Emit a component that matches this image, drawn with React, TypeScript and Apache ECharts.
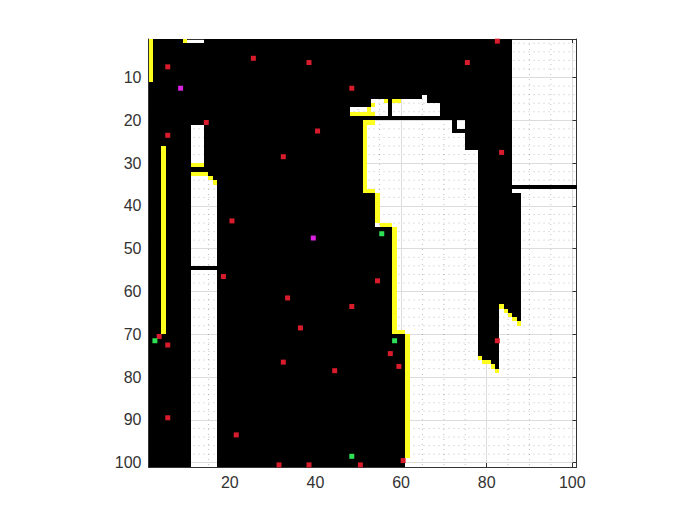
import React, { useEffect, useRef } from "react";
import * as echarts from "echarts";

// Tick positions
const xTicks = [20, 40, 60, 80, 100];
const yTicks = [10, 20, 30, 40, 50, 60, 70, 80, 90, 100];
const xMinor = [5, 10, 15, 25, 30, 35, 45, 50, 55, 65, 70, 75, 85, 90, 95];
const yMinor = [2, 4, 6, 8, 12, 14, 16, 18, 22, 24, 26, 28, 32, 34, 36, 38, 42, 44, 46, 48, 52, 54, 56, 58, 62, 64, 66, 68, 72, 74, 76, 78, 82, 84, 86, 88, 92, 94, 96, 98];

// Map cells: [rowFrom, rowTo, colFrom, colTo]; every cell not listed as free is an obstacle
const freeBlocks = [
  [1, 10, 1, 1], [1, 1, 9, 13], [1, 34, 86, 100], [36, 36, 86, 100], [37, 100, 88, 100],
  [21, 30, 11, 13], [32, 32, 11, 14], [33, 33, 11, 15], [34, 34, 11, 16], [35, 53, 11, 16], [55, 100, 11, 16],
  [14, 14, 65, 65], [15, 15, 53, 56], [15, 15, 58, 65], [16, 16, 53, 56], [16, 18, 58, 68], [17, 18, 48, 56],
  [20, 21, 73, 74], [20, 22, 51, 71], [23, 26, 51, 74], [27, 36, 51, 77], [37, 44, 54, 77], [45, 69, 58, 77],
  [70, 74, 61, 77], [75, 75, 61, 78], [76, 76, 61, 80], [77, 77, 61, 81], [78, 78, 61, 82], [79, 100, 61, 87],
  [63, 63, 83, 83], [64, 64, 83, 84], [65, 65, 83, 85], [66, 66, 83, 86], [67, 78, 83, 87],
];
const yellowBlocks = [
  [1, 10, 1, 1], [1, 1, 9, 9], [26, 69, 4, 4], [30, 30, 11, 13], [32, 32, 11, 14], [33, 33, 15, 15], [34, 34, 16, 16],
  [15, 15, 56, 56], [15, 15, 58, 59], [16, 16, 53, 53], [17, 17, 52, 52], [18, 18, 48, 53],
  [20, 20, 51, 53], [21, 36, 51, 51], [36, 36, 52, 53], [37, 43, 54, 54], [44, 44, 55, 57], [45, 69, 58, 58], [69, 69, 59, 60], [70, 98, 61, 61],
  [75, 75, 78, 78], [76, 76, 79, 80], [77, 77, 81, 81], [78, 78, 82, 82],
  [63, 63, 83, 83], [64, 64, 84, 84], [65, 65, 85, 85], [66, 66, 86, 86], [67, 67, 87, 87],
];

// Marked points, given as the centre of their cell
const redPoints = [
  [5.5, 7.5], [25.5, 5.5], [38.5, 6.5], [48.5, 12.5], [14.5, 20.5], [5.5, 23.5], [40.5, 22.5], [32.5, 28.5],
  [75.5, 6.5], [82.5, 1.5], [83.5, 27.5], [54.5, 57.5], [48.5, 63.5], [57.5, 74.5], [82.5, 71.5], [59.5, 77.5],
  [50.5, 100.5], [60.5, 99.5], [20.5, 43.5], [18.5, 56.5], [3.5, 70.5], [5.5, 72.5], [32.5, 76.5], [44.5, 78.5],
  [5.5, 89.5], [21.5, 93.5], [31.5, 100.5], [38.5, 100.5], [33.5, 61.5], [36.5, 68.5],
];
const greenPoints = [[55.5, 46.5], [58.5, 71.5], [48.5, 98.5], [2.5, 71.5]];
const magentaPoints = [[8.5, 12.5], [39.5, 47.5]];

function obstacleRuns() {
  const free: boolean[][] = [];
  for (let r = 0; r <= 100; r++) free.push(new Array(102).fill(false));
  freeBlocks.forEach(([r0, r1, c0, c1]) => {
    for (let r = r0; r <= r1; r++) for (let c = c0; c <= c1; c++) free[r][c] = true;
  });
  const runs: number[][] = [];
  for (let r = 1; r <= 100; r++) {
    let start = 0;
    for (let c = 1; c <= 101; c++) {
      const blocked = c <= 100 && !free[r][c];
      if (blocked && !start) start = c;
      if (!blocked && start) {
        runs.push([r, r, start, c - 1]);
        start = 0;
      }
    }
  }
  return runs;
}

const blockItem = (fill: string) => (_: any, api: any) => {
  const a = api.coord([api.value(2), api.value(0)]);
  const b = api.coord([api.value(3) + 1, api.value(1) + 1]);
  const x = Math.round(a[0]);
  const y = Math.round(a[1]);
  return {
    type: "rect",
    shape: { x, y, width: Math.round(b[0]) - x, height: Math.round(b[1]) - y },
    style: { fill },
  };
};

const dotted = "rgba(0,0,0,0.25)";
const solid = "#dcdcdc";
const ink = "#333333";

const guideItem = (vertical: boolean) => (_: any, api: any) => {
  const v = api.value(0);
  const a = api.coord(vertical ? [v, 1] : [1, v]);
  const b = api.coord(vertical ? [v, 101] : [101, v]);
  return {
    type: "line",
    shape: { x1: a[0], y1: a[1], x2: b[0], y2: b[1] },
    style: { stroke: dotted, lineWidth: 1, lineDash: [1, 4] },
  };
};

const baseAxis = (ticks: number[], show: boolean, extra: any) => ({
  type: "value",
  min: 1,
  max: 101,
  axisLine: { show: true, onZero: false, lineStyle: { color: ink, width: 1 } },
  axisTick: { show: true, inside: true, length: 4, customValues: ticks, lineStyle: { color: ink } },
  axisLabel: show
    ? { show: true, customValues: ticks, color: ink, fontSize: 16, fontFamily: "Liberation Sans", margin: 7, hideOverlap: false }
    : { show: false },
  splitLine: { show: false },
  ...extra,
});

const pointSeries = (name: string, data: number[][], color: string) => ({
  name,
  type: "scatter",
  data,
  symbol: "rect",
  symbolSize: 5,
  itemStyle: { color, opacity: 1 },
  z: 6,
});

export default function App() {
  const ref = useRef<HTMLDivElement>(null);
  useEffect(() => {
    document.body.style.margin = "0";
    const chart = echarts.init(ref.current!, undefined, { renderer: "svg" });
    chart.setOption({
      animation: false,
      backgroundColor: "#ffffff",
      grid: { left: 148.5, top: 39, width: 428, height: 428, containLabel: false },
      xAxis: [
        baseAxis(xTicks, true, { position: "bottom", splitLine: { show: true, lineStyle: { color: solid, width: 1 } } }),
        baseAxis(xTicks, false, { position: "top" }),
      ],
      yAxis: [
        baseAxis(yTicks, true, { position: "left", inverse: true, splitLine: { show: true, lineStyle: { color: solid, width: 1 } } }),
        baseAxis(yTicks, false, { position: "right", inverse: true }),
      ],
      series: [
        { type: "custom", name: "x guides", data: xMinor.map((v) => [v]), renderItem: guideItem(true), silent: true, z: 1 },
        { type: "custom", name: "y guides", data: yMinor.map((v) => [v]), renderItem: guideItem(false), silent: true, z: 1 },
        { type: "custom", name: "obstacles", data: obstacleRuns(), renderItem: blockItem("#000000"), silent: true, z: 2 },
        { type: "custom", name: "frontier", data: yellowBlocks, renderItem: blockItem("#ffff1e"), silent: true, z: 3 },
        pointSeries("targets", redPoints, "#d81c2c"),
        pointSeries("start", greenPoints, "#2ee055"),
        pointSeries("robot", magentaPoints, "#d822e0"),
      ],
    });
    return () => chart.dispose();
  }, []);
  return <div ref={ref} style={{ width: 700, height: 525 }} />;
}
